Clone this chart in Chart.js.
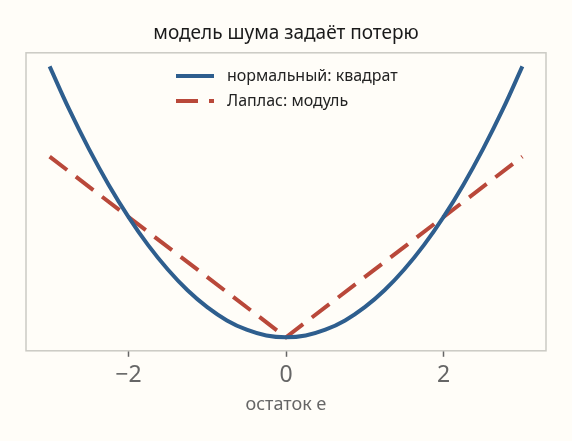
<!DOCTYPE html>
<html>
<head>
<meta charset="utf-8">
<script src="https://cdn.jsdelivr.net/npm/chart.js@4"></script>
<style>
  html, body { margin: 0; padding: 0; background: #fffdf8; }
  #wrap { width: 572px; height: 441px; }
</style>
</head>
<body>
<div id="wrap"><canvas id="lossChart" width="572" height="441"></canvas></div>
<script>
// остаток e
const residuals = [-3, -2.75, -2.5, -2.25, -2, -1.75, -1.5, -1.25, -1, -0.75, -0.5, -0.25, 0,
                   0.25, 0.5, 0.75, 1, 1.25, 1.5, 1.75, 2, 2.25, 2.5, 2.75, 3];
// нормальный шум -> квадрат (e^2 / 2)
const squareLoss = [4.5, 3.78, 3.125, 2.53, 2, 1.53, 1.125, 0.78, 0.5, 0.28, 0.125, 0.03, 0,
                    0.03, 0.125, 0.28, 0.5, 0.78, 1.125, 1.53, 2, 2.53, 3.125, 3.78, 4.5];
// Лаплас -> модуль
const absResiduals = [-3, 0, 3];
const absLoss = [3, 0, 3];
const xTicks = [-2, 0, 2];

const seriesLabels = ['нормальный: квадрат', 'Лаплас: модуль'];
const FONT = '"Noto Sans", sans-serif';

const frame = {
    id: 'frame',
    afterDraw(chart) {
        const { ctx, chartArea: a } = chart;
        ctx.save();
        ctx.strokeStyle = '#cbcac4';
        ctx.lineWidth = 1.5;
        ctx.strokeRect(a.left, a.top, a.right - a.left, a.bottom - a.top);
        ctx.restore();
    }
};

const innerLegend = {
    id: 'innerLegend',
    afterDraw(chart) {
        const { ctx } = chart;
        ctx.save();
        ctx.font = '16px ' + FONT;
        ctx.textBaseline = 'middle';
        chart.data.datasets.forEach((ds, i) => {
            const y = 76 + i * 25;
            ctx.strokeStyle = ds.borderColor;
            ctx.lineWidth = 4;
            ctx.setLineDash(ds.borderDash || []);
            ctx.beginPath();
            ctx.moveTo(176, y);
            ctx.lineTo(214, y);
            ctx.stroke();
            ctx.setLineDash([]);
            ctx.fillStyle = '#222';
            ctx.fillText(ds.label, 227, y);
        });
        ctx.restore();
    }
};

new Chart(document.getElementById('lossChart').getContext('2d'), {
    type: 'line',
    data: {
        datasets: [{
            label: seriesLabels[0],
            data: residuals.map((e, i) => ({ x: e, y: squareLoss[i] })),
            borderColor: '#2e5e8e',
            borderWidth: 4,
            pointRadius: 0,
            tension: 0.4,
            fill: false
        }, {
            label: seriesLabels[1],
            data: absResiduals.map((e, i) => ({ x: e, y: absLoss[i] })),
            borderColor: '#b9483a',
            borderWidth: 4,
            borderDash: [22, 11],
            pointRadius: 0,
            tension: 0,
            fill: false
        }]
    },
    options: {
        responsive: false,
        animation: false,
        layout: { padding: { left: 26, right: 26, top: 0, bottom: 25 } },
        plugins: {
            legend: { display: false },
            tooltip: { enabled: false },
            title: {
                display: true,
                text: 'модель шума задаёт потерю',
                color: '#1a1a1a',
                font: { family: FONT, size: 19, weight: 'normal' },
                padding: { top: 22, bottom: 8 }
            }
        },
        scales: {
            x: {
                type: 'linear',
                min: -3.3,
                max: 3.3,
                afterBuildTicks: axis => { axis.ticks = xTicks.map(v => ({ value: v })); },
                ticks: {
                    color: '#666',
                    font: { family: FONT, size: 23 },
                    padding: 5,
                    callback: v => (v < 0 ? '\u2212' + Math.abs(v) : String(v))
                },
                grid: { drawOnChartArea: false, tickLength: 6, tickColor: '#666', tickWidth: 1.5 },
                border: { display: false },
                title: {
                    display: true,
                    text: 'остаток e',
                    color: '#666',
                    font: { family: FONT, size: 18 },
                    padding: { top: 0, bottom: 0 }
                }
            },
            y: {
                display: false,
                min: -0.225,
                max: 4.725
            }
        }
    },
    plugins: [frame, innerLegend]
});
</script>
</body>
</html>
